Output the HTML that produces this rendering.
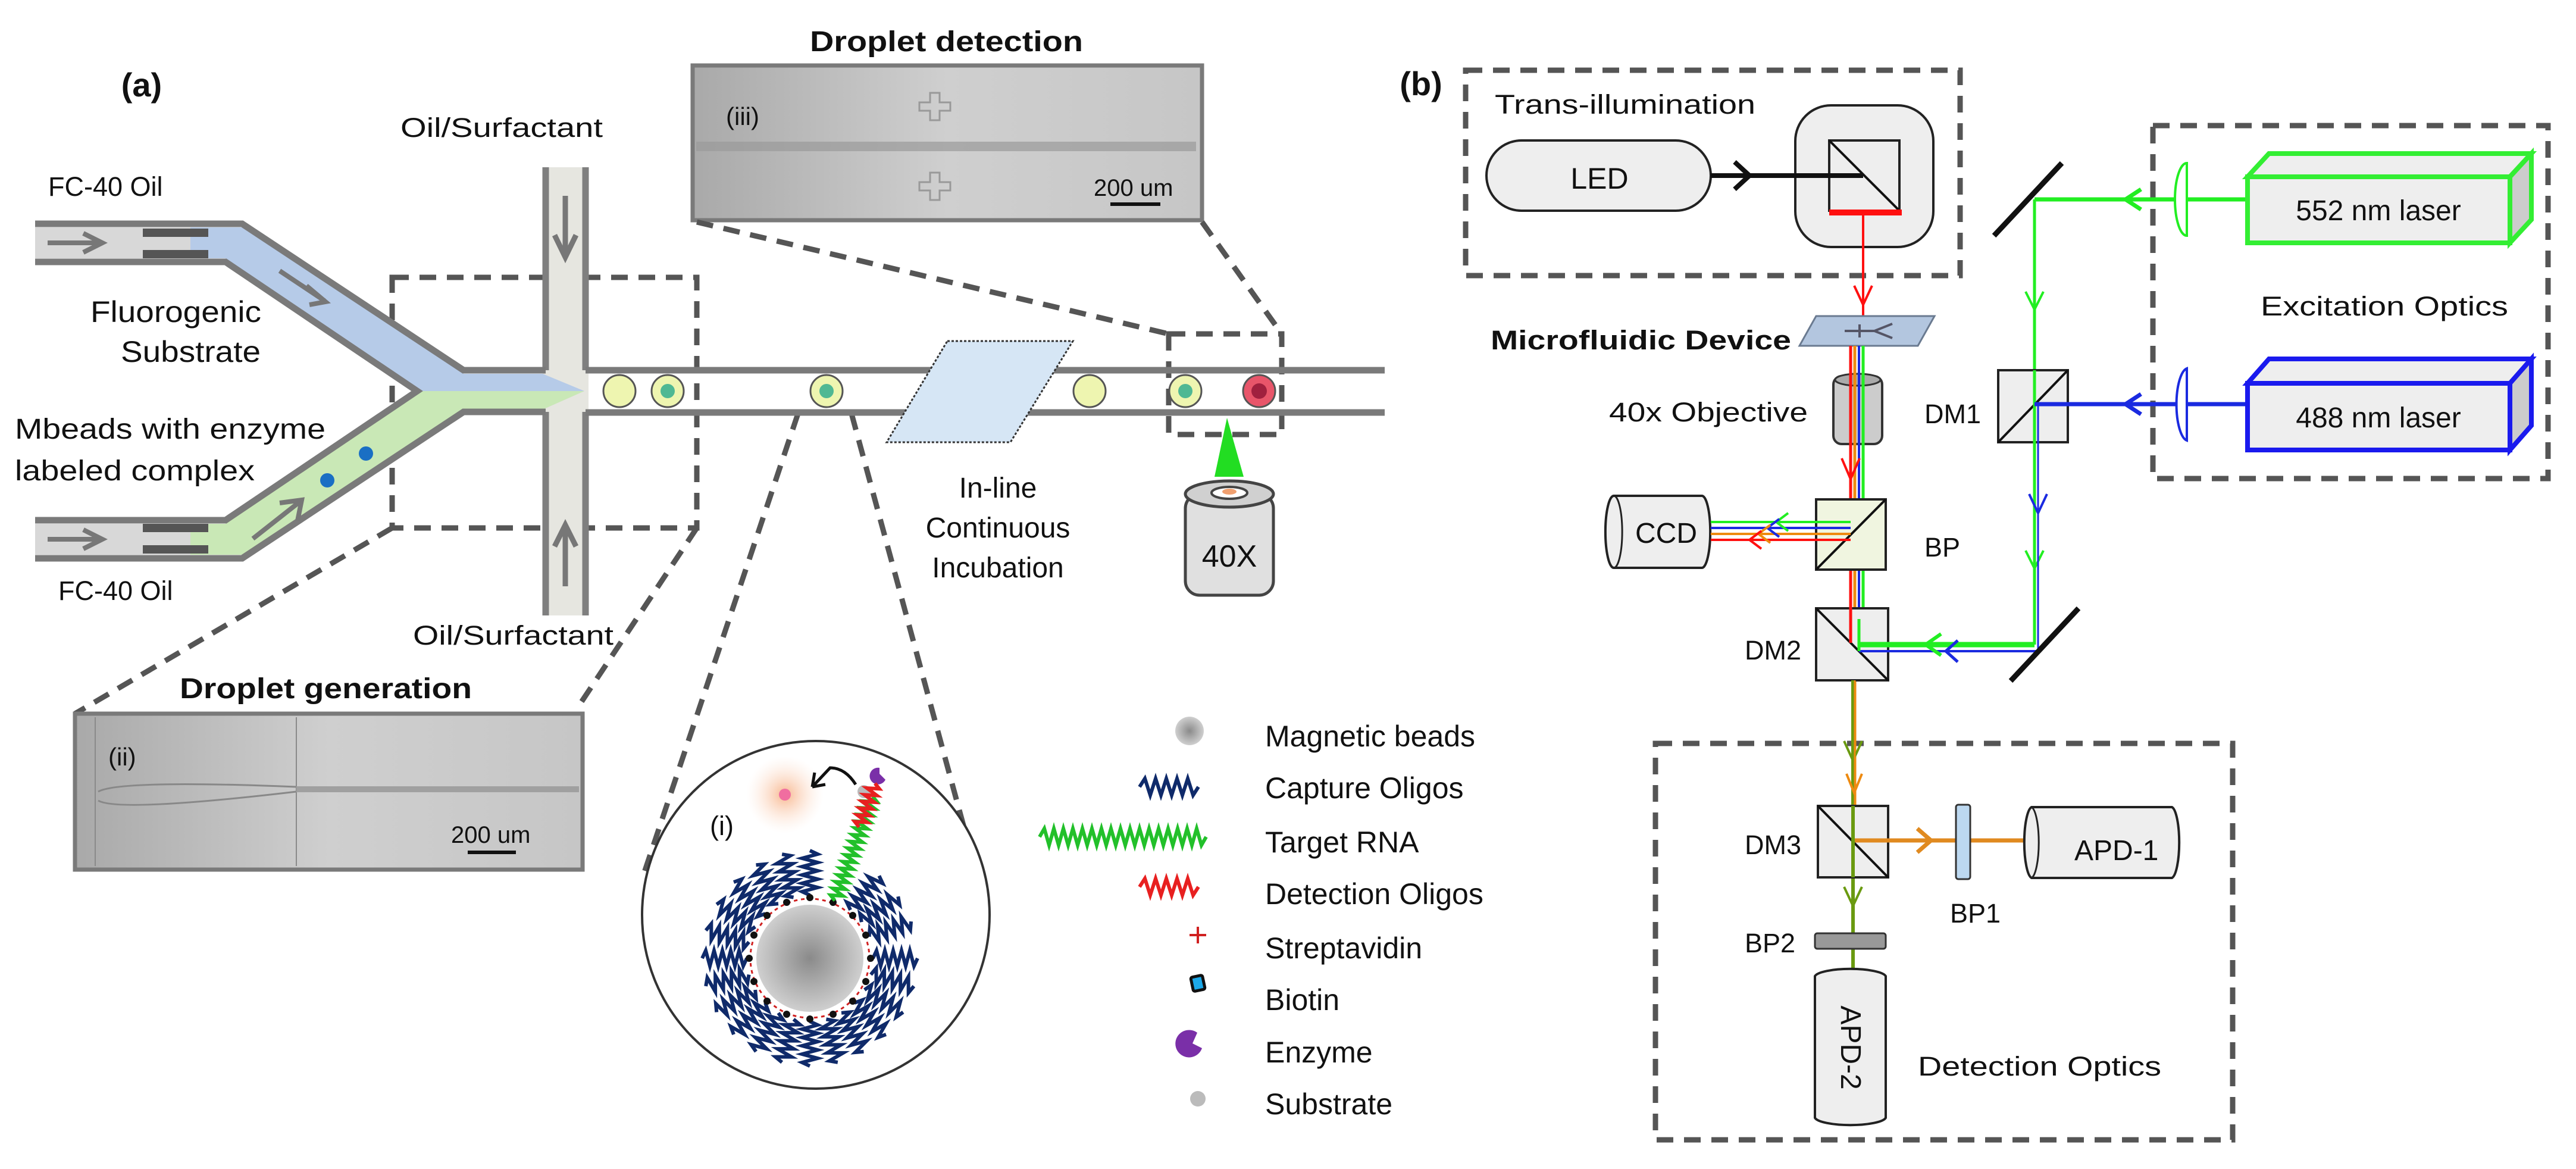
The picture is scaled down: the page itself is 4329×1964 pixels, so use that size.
<!DOCTYPE html>
<html><head><meta charset="utf-8"><style>
html,body{margin:0;padding:0;background:#fff}
svg{display:block}
text{font-family:"Liberation Sans",Arial,sans-serif;fill:#111}
</style></head><body>
<svg width="4329" height="1964" viewBox="0 0 4329 1964" xmlns="http://www.w3.org/2000/svg">
<defs>
<linearGradient id="img" x1="0" x2="1" y1="0" y2="0"><stop offset="0" stop-color="#a9a9a9"/><stop offset="0.5" stop-color="#cfcfcf"/><stop offset="1" stop-color="#c6c6c6"/></linearGradient>
<radialGradient id="bead"><stop offset="0" stop-color="#8a8a8a"/><stop offset="1" stop-color="#cfcfcf"/></radialGradient>
<radialGradient id="glow"><stop offset="0" stop-color="#f8b890"/><stop offset="1" stop-color="#fde8dc" stop-opacity="0"/></radialGradient>
<path id="cap" d="M0 0 l6 -13 l7 26 l7 -26 l7 26 l7 -26 l7 26 l7 -26 l7 26 l7 -26 l7 26 l6 -13" fill="none" stroke="#0f2a6a" stroke-width="6"/>
</defs>

<!-- ============ PANEL A ============ -->
<text x="238" y="162" font-size="56" font-weight="bold" text-anchor="middle">(a)</text>
<text x="1361" y="86" font-size="48" font-weight="bold" textLength="459" lengthAdjust="spacingAndGlyphs">Droplet detection</text>

<rect x="1164" y="110" width="856" height="260" fill="url(#img)" stroke="#7a7a7a" stroke-width="7"/>
<text x="1220" y="210" font-size="42">(iii)</text>
<g stroke="#999" stroke-width="3" fill="none">
<path d="M1563 156h16v16h18v14h-18v16h-16v-16h-18v-14h18z"/>
<path d="M1563 290h16v16h18v14h-18v16h-16v-16h-18v-14h18z"/>
</g>
<rect x="1170" y="238" width="840" height="16" fill="#9a9a9a" opacity="0.7"/>
<text x="1838" y="329" font-size="40">200 um</text>
<rect x="1866" y="340" width="84" height="6" fill="#111"/>

<g stroke="#555" stroke-width="9" stroke-dasharray="28 18" fill="none">
<path d="M1171 373 L1964 561"/>
<path d="M2020 373 L2154 561"/>
<rect x="1964" y="561" width="190" height="169"/>
<rect x="659" y="466" width="512" height="421"/>
<path d="M659 887 L126 1199"/>
<path d="M1171 887 L968 1193"/>
<path d="M1341 695 L1080 1474"/>
<path d="M1431 695 L1627 1416"/>
</g>

<rect x="912" y="281" width="77" height="753" fill="#e6e6e0"/>
<path d="M917 281 V622 M984 281 V622 M917 692 V1034 M984 692 V1034" stroke="#7f7f7f" stroke-width="11"/>
<path d="M950 329 V432 M932 395 L950 432 L968 395" stroke="#777" stroke-width="9" fill="none"/>
<path d="M950 985 V882 M932 918 L950 882 L968 918" stroke="#777" stroke-width="9" fill="none"/>

<polygon points="59,382 330,382 407,382 779,628 912,628 982,657 701,657 379,434 330,434 59,434" fill="#d8d8d8"/>
<polygon points="320,382 407,382 779,628 912,628 982,657 701,657 379,434 320,434" fill="#b6cbe8"/>
<polygon points="59,880 330,880 379,880 701,657 982,657 912,688 779,688 407,932 59,932" fill="#d8d8d8"/>
<polygon points="320,880 379,880 701,657 982,657 912,688 779,688 407,932 320,932" fill="#c9e8b6"/>
<rect x="240" y="384" width="110" height="14" fill="#555"/>
<rect x="240" y="420" width="110" height="14" fill="#555"/>
<rect x="240" y="880" width="110" height="14" fill="#555"/>
<rect x="240" y="916" width="110" height="14" fill="#555"/>
<g stroke="#7a7a7a" stroke-width="11" fill="none" stroke-linejoin="miter">
<path d="M59 376 H407 L779 622 H917"/>
<path d="M59 440 H379 L701 657 L379 874 H59"/>
<path d="M59 938 H407 L779 692 H917"/>
<path d="M984 622 H2327"/>
<path d="M984 693 H2327"/>
</g>
<g stroke="#777" stroke-width="8" fill="none">
<path d="M80 408 H170 M140 392 L172 408 L140 424"/>
<path d="M80 906 H170 M140 890 L172 906 L140 922"/>
<path d="M470 455 L545 505 M515 480 L547 507 L520 512"/>
<path d="M425 905 L505 842 M470 845 L507 840 L500 875"/>
</g>
<circle cx="615" cy="762" r="12" fill="#1a6fc4"/>
<circle cx="550" cy="807" r="12" fill="#1a6fc4"/>

<text x="81" y="329" font-size="45">FC-40 Oil</text>
<text x="152" y="541" font-size="50" textLength="287" lengthAdjust="spacingAndGlyphs">Fluorogenic</text>
<text x="203" y="608" font-size="50" textLength="235" lengthAdjust="spacingAndGlyphs">Substrate</text>
<text x="25" y="737" font-size="48" textLength="522" lengthAdjust="spacingAndGlyphs">Mbeads with enzyme</text>
<text x="25" y="807" font-size="48" textLength="403" lengthAdjust="spacingAndGlyphs">labeled complex</text>
<text x="98" y="1008" font-size="45">FC-40 Oil</text>
<text x="673" y="230" font-size="45" textLength="340" lengthAdjust="spacingAndGlyphs">Oil/Surfactant</text>
<text x="694" y="1083" font-size="45" textLength="337" lengthAdjust="spacingAndGlyphs">Oil/Surfactant</text>

<g stroke="#555" stroke-width="3">
<circle cx="1041" cy="657" r="27" fill="#eef5b0"/>
<circle cx="1122" cy="657" r="27" fill="#eef5b0"/>
<circle cx="1389" cy="657" r="27" fill="#eef5b0"/>
<circle cx="1831" cy="657" r="27" fill="#eef5b0"/>
<circle cx="1992" cy="657" r="27" fill="#eef5b0"/>
<circle cx="2116" cy="657" r="27" fill="#e8556a"/>
</g>
<circle cx="1122" cy="657" r="12" fill="#4fb893"/>
<circle cx="1389" cy="657" r="12" fill="#4fb893"/>
<circle cx="1992" cy="657" r="12" fill="#4fb893"/>
<circle cx="2116" cy="657" r="13" fill="#a0203e"/>

<polygon points="1592,573 1803,573 1698,743 1490,743" fill="#d6e6f5" stroke="#333" stroke-width="3" stroke-dasharray="4 3"/>
<g font-size="48" text-anchor="middle">
<text x="1677" y="836">In-line</text>
<text x="1677" y="903">Continuous</text>
<text x="1677" y="970">Incubation</text>
</g>

<polygon points="2062,702 2041,801 2090,801" fill="#22dd22"/>
<rect x="1992" y="830" width="148" height="170" rx="24" fill="#e0e0e0" stroke="#444" stroke-width="5"/>
<ellipse cx="2066" cy="830" rx="74" ry="22" fill="#d0d0d0" stroke="#444" stroke-width="5"/>
<ellipse cx="2066" cy="828" rx="30" ry="10" fill="#fff" stroke="#444" stroke-width="4"/>
<ellipse cx="2066" cy="826" rx="12" ry="5" fill="#f0a070"/>
<text x="2066" y="952" font-size="52" text-anchor="middle">40X</text>

<text x="302" y="1173" font-size="48" font-weight="bold" textLength="491" lengthAdjust="spacingAndGlyphs">Droplet generation</text>
<rect x="126" y="1199" width="853" height="262" fill="url(#img)" stroke="#7a7a7a" stroke-width="7"/>
<path d="M160 1205 V1455 M498 1205 V1455" stroke="#8a8a8a" stroke-width="2"/>
<path d="M165 1330 Q200 1310 498 1322 M165 1345 Q200 1365 498 1330" stroke="#888" stroke-width="3" fill="none"/>
<rect x="498" y="1321" width="475" height="10" fill="#a0a0a0"/>
<text x="182" y="1286" font-size="42">(ii)</text>
<text x="758" y="1416" font-size="40">200 um</text>
<rect x="786" y="1429" width="81" height="6" fill="#111"/>

<circle cx="1371" cy="1537" r="292" fill="#fff" stroke="#333" stroke-width="4"/>
<circle cx="1319" cy="1335" r="65" fill="url(#glow)"/>
<circle cx="1319" cy="1335" r="10" fill="#f06ea0"/>
<path d="M1438 1318 Q1420 1290 1395 1290 L1365 1322 M1365 1322 l4 -24 M1365 1322 l22 -4" stroke="#111" stroke-width="5" fill="none"/>
<circle cx="1452" cy="1330" r="11" fill="#bbb"/>
<path d="M1478 1290 a14 14 0 1 0 10 20 l-10 -10z" fill="#7a2fa8"/>
<text x="1193" y="1403" font-size="45">(i)</text>
<circle cx="1361" cy="1610" r="90" fill="url(#bead)"/>
<circle cx="1361" cy="1610" r="100" fill="none" stroke="#d02020" stroke-width="3" stroke-dasharray="6 6"/>
<g>
<use href="#cap" transform="translate(1361 1610) rotate(0) translate(106 0)"/>
<use href="#cap" transform="translate(1361 1610) rotate(15) translate(106 0)"/>
<use href="#cap" transform="translate(1361 1610) rotate(30) translate(106 0)"/>
<use href="#cap" transform="translate(1361 1610) rotate(45) translate(106 0)"/>
<use href="#cap" transform="translate(1361 1610) rotate(60) translate(106 0)"/>
<use href="#cap" transform="translate(1361 1610) rotate(75) translate(106 0)"/>
<use href="#cap" transform="translate(1361 1610) rotate(90) translate(106 0)"/>
<use href="#cap" transform="translate(1361 1610) rotate(105) translate(106 0)"/>
<use href="#cap" transform="translate(1361 1610) rotate(120) translate(106 0)"/>
<use href="#cap" transform="translate(1361 1610) rotate(135) translate(106 0)"/>
<use href="#cap" transform="translate(1361 1610) rotate(150) translate(106 0)"/>
<use href="#cap" transform="translate(1361 1610) rotate(165) translate(106 0)"/>
<use href="#cap" transform="translate(1361 1610) rotate(180) translate(106 0)"/>
<use href="#cap" transform="translate(1361 1610) rotate(195) translate(106 0)"/>
<use href="#cap" transform="translate(1361 1610) rotate(210) translate(106 0)"/>
<use href="#cap" transform="translate(1361 1610) rotate(225) translate(106 0)"/>
<use href="#cap" transform="translate(1361 1610) rotate(240) translate(106 0)"/>
<use href="#cap" transform="translate(1361 1610) rotate(255) translate(106 0)"/>
<use href="#cap" transform="translate(1361 1610) rotate(270) translate(106 0)"/>
<use href="#cap" transform="translate(1361 1610) rotate(310) translate(106 0)"/>
<use href="#cap" transform="translate(1361 1610) rotate(325) translate(106 0)"/>
<use href="#cap" transform="translate(1361 1610) rotate(340) translate(106 0)"/>
</g>
<g fill="#111">
<circle cx="1361" cy="1508" r="6"/><circle cx="1433" cy="1538" r="6"/><circle cx="1463" cy="1610" r="6"/>
<circle cx="1433" cy="1682" r="6"/><circle cx="1361" cy="1712" r="6"/><circle cx="1289" cy="1682" r="6"/>
<circle cx="1259" cy="1610" r="6"/><circle cx="1289" cy="1538" r="6"/>
<circle cx="1400" cy="1516" r="6"/><circle cx="1455" cy="1571" r="6"/><circle cx="1455" cy="1649" r="6"/><circle cx="1400" cy="1704" r="6"/>
<circle cx="1322" cy="1704" r="6"/><circle cx="1267" cy="1649" r="6"/><circle cx="1267" cy="1571" r="6"/><circle cx="1322" cy="1516" r="6"/>
</g>
<g transform="translate(1403 1513) rotate(-70)">
<path d="M0 0 l6 -10 l6 20 l6 -20 l6 20 l6 -20 l6 20 l6 -20 l6 20 l6 -20 l6 20 l6 -20 l6 20 l6 -20 l6 20 l6 -20 l6 20 l6 -20 l6 20 l6 -20 l6 20 l6 -20 l6 20 l6 -20 l6 20 l6 -20 l6 20 l6 -20 l6 20 l6 -20 l6 20 l6 -10" fill="none" stroke="#22c02a" stroke-width="6"/>
<path d="M130 -4 l6 -10 l6 20 l6 -20 l6 20 l6 -20 l6 20 l6 -20 l6 20 l6 -20 l6 20 l6 -20 l6 20 l6 -10" fill="none" stroke="#e82020" stroke-width="6"/>
</g>

<circle cx="1999" cy="1228" r="24" fill="url(#bead)"/>
<path d="M1915 1322 l9 -14 l9 28 l9 -28 l9 28 l9 -28 l9 28 l9 -28 l9 28 l9 -28 l9 28 l9 -14" fill="none" stroke="#0f2a6a" stroke-width="6"/>
<path d="M1747 1406 l8 -14 l8 28 l8 -28 l8 28 l8 -28 l8 28 l8 -28 l8 28 l8 -28 l8 28 l8 -28 l8 28 l8 -28 l8 28 l8 -28 l8 28 l8 -28 l8 28 l8 -28 l8 28 l8 -28 l8 28 l8 -28 l8 28 l8 -28 l8 28 l8 -28 l8 28 l8 -28 l8 28 l8 -28 l8 28 l8 -28 l8 28 l8 -14" fill="none" stroke="#22c02a" stroke-width="6"/>
<path d="M1915 1490 l9 -14 l9 28 l9 -28 l9 28 l9 -28 l9 28 l9 -28 l9 28 l9 -28 l9 28 l9 -14" fill="none" stroke="#e82020" stroke-width="6"/>
<path d="M2013 1557 v28 M1999 1571 h28" stroke="#d02020" stroke-width="4"/>
<rect x="2003" y="1640" width="20" height="24" rx="3" fill="#1ca8e8" stroke="#111" stroke-width="5" transform="rotate(-12 2013 1652)"/>
<path d="M2012 1735 a23 23 0 1 0 8 26 l-16 -8z" fill="#7a2fa8"/>
<circle cx="2013" cy="1846" r="13" fill="#bbb"/>
<g font-size="50">
<text x="2126" y="1254">Magnetic beads</text>
<text x="2126" y="1341">Capture Oligos</text>
<text x="2126" y="1432">Target RNA</text>
<text x="2126" y="1519">Detection Oligos</text>
<text x="2126" y="1610">Streptavidin</text>
<text x="2126" y="1697">Biotin</text>
<text x="2126" y="1785">Enzyme</text>
<text x="2126" y="1872">Substrate</text>
</g>

<!-- ============ PANEL B ============ -->
<text x="2388" y="160" font-size="56" font-weight="bold" text-anchor="middle">(b)</text>
<g stroke="#555" stroke-width="9" stroke-dasharray="28 18" fill="none">
<rect x="2463" y="118" width="831" height="345"/>
<rect x="3618" y="211" width="664" height="593"/>
<rect x="2782" y="1249" width="970" height="666"/>
</g>
<text x="2512" y="191" font-size="45" textLength="438" lengthAdjust="spacingAndGlyphs">Trans-illumination</text>
<rect x="2498" y="236" width="377" height="118" rx="59" fill="#eee" stroke="#222" stroke-width="4"/>
<text x="2688" y="317" font-size="50" text-anchor="middle">LED</text>
<rect x="3017" y="177" width="232" height="238" rx="60" fill="#eee" stroke="#222" stroke-width="4"/>
<rect x="3074" y="236" width="118" height="118" fill="#eee" stroke="#222" stroke-width="4"/>
<path d="M3074 236 L3192 354" stroke="#111" stroke-width="4"/>
<path d="M2875 295 H3131" stroke="#111" stroke-width="8"/>
<path d="M2915 272 L2940 295 L2915 318" stroke="#111" stroke-width="8" fill="none"/>
<rect x="3074" y="352" width="122" height="10" fill="#ff1010"/>
<path d="M3131 362 V531" stroke="#ff1010" stroke-width="4"/>
<path d="M3116 480 L3131 512 L3146 480" stroke="#ff1010" stroke-width="4" fill="none"/>
<polygon points="3052,531 3251,531 3223,581 3024,581" fill="#b3c6df" stroke="#6a7a90" stroke-width="3"/>
<path d="M3100 556 H3150 M3125 545 V567 M3150 556 L3180 544 M3150 556 L3180 568" stroke="#556" stroke-width="4" fill="none"/>
<text x="2505" y="587" font-size="45" font-weight="bold" textLength="505" lengthAdjust="spacingAndGlyphs">Microfluidic Device</text>

<rect x="3081" y="632" width="82" height="114" rx="14" fill="#ccc" stroke="#333" stroke-width="4"/>
<ellipse cx="3122" cy="638" rx="38" ry="10" fill="#aaa" stroke="#333" stroke-width="3"/>
<text x="2704" y="708" font-size="45" textLength="334" lengthAdjust="spacingAndGlyphs">40x Objective</text>

<path d="M3110 581 V1030" stroke="#ff1010" stroke-width="5"/>
<path d="M3117 581 V1150" stroke="#ee8a10" stroke-width="5"/>
<path d="M3124 581 V1083" stroke="#1a2ae0" stroke-width="4"/>
<path d="M3131 581 V1094" stroke="#22ee22" stroke-width="5"/>
<path d="M3095 770 L3110 805 L3125 770" stroke="#ff1010" stroke-width="4" fill="none"/>
<path d="M3110 1030 V1120" stroke="#ff1010" stroke-width="5"/>
<path d="M3114 1100 V1626" stroke="#6a9a10" stroke-width="6"/>
<path d="M3118 1100 V1390" stroke="#ee8a10" stroke-width="3"/>

<rect x="3052" y="839" width="117" height="118" fill="#f0f5e0" stroke="#222" stroke-width="4"/>
<path d="M3052 957 L3169 839" stroke="#111" stroke-width="4"/>
<text x="3234" y="935" font-size="45">BP</text>
<path d="M2712 833 H2860 A14 60 0 0 1 2860 954 H2712 A14 60 0 0 1 2712 833 Z" fill="#eee" stroke="#222" stroke-width="4"/>
<path d="M2712 833 A14 60 0 0 1 2712 954" fill="none" stroke="#222" stroke-width="3"/>
<text x="2800" y="912" font-size="48" text-anchor="middle">CCD</text>
<path d="M2875 877 H3110" stroke="#22ee22" stroke-width="4"/>
<path d="M2875 887 H3110" stroke="#1a2ae0" stroke-width="4"/>
<path d="M2875 897 H3110" stroke="#ee8a10" stroke-width="4"/>
<path d="M2875 907 H3110" stroke="#ff1010" stroke-width="4"/>
<path d="M3005 862 L2985 877 L3005 892" stroke="#22ee22" stroke-width="4" fill="none"/>
<path d="M2990 872 L2970 887 L2990 902" stroke="#1a2ae0" stroke-width="4" fill="none"/>
<path d="M2975 882 L2955 897 L2975 912" stroke="#ee8a10" stroke-width="4" fill="none"/>
<path d="M2960 892 L2940 907 L2960 922" stroke="#ff1010" stroke-width="4" fill="none"/>

<path d="M3351 396 L3465 274" stroke="#111" stroke-width="9"/>
<path d="M3419 335 H3777" stroke="#22ee22" stroke-width="7"/>
<path d="M3419 335 V1083" stroke="#22ee22" stroke-width="5"/>
<path d="M3598 318 L3572 335 L3598 352" stroke="#22ee22" stroke-width="7" fill="none"/>
<path d="M3404 490 L3419 520 L3434 490" stroke="#22ee22" stroke-width="4" fill="none"/>
<path d="M3404 925 L3419 955 L3434 925" stroke="#22ee22" stroke-width="4" fill="none"/>
<path d="M3675 274 A20 61 0 0 0 3675 396 Z" fill="#fff" stroke="#22ee22" stroke-width="4"/>
<polygon points="3777,297 4218,297 4254,258 3813,258" fill="#eee" stroke="#33ee33" stroke-width="8"/>
<polygon points="4218,297 4254,258 4254,369 4218,408" fill="#ccc" stroke="#33ee33" stroke-width="8"/>
<rect x="3777" y="297" width="441" height="111" fill="#eee" stroke="#33ee33" stroke-width="8"/>
<text x="3997" y="370" font-size="48" text-anchor="middle">552 nm laser</text>
<text x="3799" y="530" font-size="45" textLength="416" lengthAdjust="spacingAndGlyphs">Excitation Optics</text>

<rect x="3358" y="622" width="117" height="121" fill="#eee" stroke="#222" stroke-width="4"/>
<path d="M3358 743 L3475 622" stroke="#111" stroke-width="4"/>
<path d="M3419 622 V1083" stroke="#22ee22" stroke-width="5"/>
<text x="3234" y="711" font-size="45">DM1</text>
<path d="M3419 679 H3777" stroke="#1a2ae0" stroke-width="7"/>
<path d="M3598 662 L3572 679 L3598 696" stroke="#1a2ae0" stroke-width="7" fill="none"/>
<path d="M3425 679 V1094" stroke="#1a2ae0" stroke-width="3"/>
<path d="M3410 830 L3425 862 L3440 830" stroke="#1a2ae0" stroke-width="4" fill="none"/>
<path d="M3675 619 A20 61 0 0 0 3675 740 Z" fill="#fff" stroke="#1a2ae0" stroke-width="4"/>
<polygon points="3777,644 4218,644 4254,603 3813,603" fill="#eee" stroke="#1a1aee" stroke-width="8"/>
<polygon points="4218,644 4254,603 4254,715 4218,756" fill="#ccc" stroke="#1a1aee" stroke-width="8"/>
<rect x="3777" y="644" width="441" height="112" fill="#eee" stroke="#1a1aee" stroke-width="8"/>
<text x="3997" y="718" font-size="48" text-anchor="middle">488 nm laser</text>

<rect x="3052" y="1022" width="121" height="121" fill="#eee" stroke="#222" stroke-width="4"/>
<path d="M3052 1022 L3173 1143" stroke="#111" stroke-width="4"/>
<path d="M3110 1000 V1080" stroke="#ff1010" stroke-width="5"/>
<path d="M3124 1083 H3419" stroke="#22ee22" stroke-width="9"/>
<path d="M3124 1094 H3425" stroke="#1a2ae0" stroke-width="4"/>
<path d="M3124 1040 V1094" stroke="#22ee22" stroke-width="5"/>
<path d="M3262 1065 L3236 1083 L3262 1101" stroke="#22ee22" stroke-width="6" fill="none"/>
<path d="M3290 1076 L3270 1094 L3290 1112" stroke="#1a2ae0" stroke-width="5" fill="none"/>
<path d="M3379 1144 L3493 1022" stroke="#111" stroke-width="9"/>
<path d="M3114 1143 V1626" stroke="#6a9a10" stroke-width="6"/>
<text x="2932" y="1108" font-size="45">DM2</text>

<path d="M3099 1245 L3114 1278 L3129 1245" stroke="#6a9a10" stroke-width="4" fill="none"/>
<path d="M3103 1300 L3116 1332 L3129 1300" stroke="#ee8a10" stroke-width="4" fill="none"/>
<path d="M3099 1490 L3114 1522 L3129 1490" stroke="#6a9a10" stroke-width="4" fill="none"/>
<path d="M3117 1143 V1412" stroke="#ee8a10" stroke-width="3"/>
<rect x="3055" y="1354" width="118" height="120" fill="#eee" stroke="#222" stroke-width="4"/>
<path d="M3055 1354 L3173 1474" stroke="#111" stroke-width="4"/>
<path d="M3114 1354 V1474" stroke="#6a9a10" stroke-width="6"/>
<text x="2932" y="1435" font-size="45">DM3</text>
<path d="M3117 1412 H3408" stroke="#e08a20" stroke-width="7"/>
<path d="M3222 1392 L3245 1412 L3222 1432" stroke="#e08a20" stroke-width="7" fill="none"/>
<rect x="3287" y="1352" width="24" height="125" rx="4" fill="#bcd8f0" stroke="#333" stroke-width="3"/>
<text x="3277" y="1550" font-size="45">BP1</text>
<path d="M3414 1356 H3650 A14 60 0 0 1 3650 1475 H3414 A14 60 0 0 1 3414 1356 Z" fill="#eee" stroke="#222" stroke-width="4"/>
<path d="M3414 1356 A14 60 0 0 1 3414 1475" fill="none" stroke="#222" stroke-width="3"/>
<text x="3486" y="1445" font-size="48">APD-1</text>
<rect x="3050" y="1568" width="119" height="26" rx="4" fill="#999" stroke="#333" stroke-width="3"/>
<text x="2932" y="1600" font-size="45">BP2</text>
<path d="M3050 1640 V1878 A60 14 0 0 0 3169 1878 V1640 A60 14 0 0 0 3050 1640 Z" fill="#eee" stroke="#222" stroke-width="4"/>
<path d="M3050 1640 A60 14 0 0 1 3169 1640" fill="none" stroke="#222" stroke-width="3"/>
<text x="0" y="0" font-size="48" text-anchor="middle" transform="translate(3094 1760) rotate(90)">APD-2</text>
<text x="3223" y="1807" font-size="45" textLength="409" lengthAdjust="spacingAndGlyphs">Detection Optics</text>
</svg>
</body></html>
